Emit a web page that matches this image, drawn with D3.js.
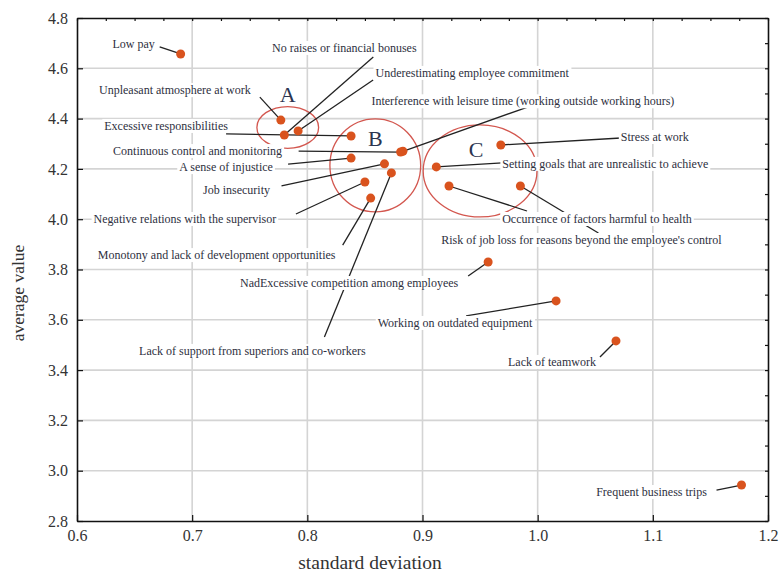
<!DOCTYPE html>
<html>
<head>
<meta charset="utf-8">
<script src="https://cdn.jsdelivr.net/npm/d3@7"></script>
<style>
  body { margin: 0; background: #fff; }
  text { font-family: "Liberation Serif", "DejaVu Serif", serif; }
</style>
</head>
<body>
<svg id="chart"></svg>
<script>
// factor names, standard deviation (x), average value (y)
var factors = ["Low pay", "No raises or financial bonuses", "Underestimating employee commitment",
    "Unpleasant atmosphere at work", "Interference with leisure time (working outside working hours)",
    "Continuous control and monitoring", "Excessive responsibilities", "A sense of injustice",
    "Job insecurity", "Negative relations with the supervisor",
    "Monotony and lack of development opportunities", "Lack of support from superiors and co-workers",
    "NadExcessive competition among employees", "Stress at work",
    "Setting goals that are unrealistic to achieve", "Occurrence of factors harmful to health",
    "Risk of job loss for reasons beyond the employee's control", "Working on outdated equipment",
    "Lack of teamwork", "Frequent business trips"]

var stdDev = [0.690, 0.780, 0.792, 0.777, 0.883, 0.881, 0.838, 0.838, 0.867, 0.850,
    0.855, 0.873, 0.957, 0.968, 0.912, 0.923, 0.985, 1.016, 1.068, 1.177]

var avgValue = [4.657, 4.335, 4.351, 4.394, 4.270, 4.267, 4.331, 4.243, 4.220, 4.148,
    4.084, 4.184, 3.830, 4.295, 4.208, 4.132, 4.132, 3.675, 3.516, 2.943]

// groups A, B, C (centre and half widths in data units)
var groupNames = ["A", "B", "C"]
var groupCx = [0.783, 0.859, 0.950]
var groupCy = [4.365, 4.214, 4.192]
var groupRx = [0.0268, 0.0394, 0.0494]
var groupRy = [0.083, 0.185, 0.183]

var xTicks = [0.6, 0.7, 0.8, 0.9, 1.0, 1.1, 1.2]
var yTicks = [2.8, 3.0, 3.2, 3.4, 3.6, 3.8, 4.0, 4.2, 4.4, 4.6, 4.8]

// label placement: offsets in px from the point (label centre, leader end)
var labelOff = [[-47,-10,-21,-7],[60,-87,89,-78],[174,-58,75,-51],[-106,-30,-21,-23],
    [120,-50,124,-44],[-203,-1,-102,-1],[-185,-10,-125,-2],[-125,9,-63,6],
    [-148,26,-103,22],[-180,37,-69,32],[-154,57,-28,47],[-139,178,-67,164],
    [-139,21,-20,14],[154,-8,120,-7],[169,-3,66,-4],[148,33,78,25],
    [61,54,78,47],[-101,22,-90,15],[-64,21,-16,16],[-90,7,-25,5]]

var screen = {width: 779, height: 572}
var margins = {left: 77, right: 11, top: 18, bottom: 51}
var graph = {
    width: screen.width - margins.left - margins.right,
    height: screen.height - margins.top - margins.bottom
}

var svg = d3.select("#chart")
    .attr("width", screen.width)
    .attr("height", screen.height)

var target = svg.append("g")
    .attr("transform", "translate(" + margins.left + "," + margins.top + ")")

var xScale = d3.scaleLinear().domain([0.6, 1.2]).range([0, graph.width])
var yScale = d3.scaleLinear().domain([2.8, 4.8]).range([graph.height, 0])

// grid
var grid = target.append("g").attr("stroke", "#d4d4d4").attr("stroke-width", 1.6)
grid.selectAll(".gx").data(xTicks.slice(1, -1)).enter().append("line")
    .attr("x1", function(d) { return xScale(d) }).attr("x2", function(d) { return xScale(d) })
    .attr("y1", 0).attr("y2", graph.height)
grid.selectAll(".gy").data(yTicks.slice(1, -1)).enter().append("line")
    .attr("y1", function(d) { return yScale(d) }).attr("y2", function(d) { return yScale(d) })
    .attr("x1", 0).attr("x2", graph.width)

// group ellipses
target.append("g").selectAll("ellipse")
    .data(groupNames).enter().append("ellipse")
    .attr("cx", function(d, i) { return xScale(groupCx[i]) })
    .attr("cy", function(d, i) { return yScale(groupCy[i]) })
    .attr("rx", function(d, i) { return xScale(groupCx[i] + groupRx[i]) - xScale(groupCx[i]) })
    .attr("ry", function(d, i) { return yScale(groupCy[i]) - yScale(groupCy[i] + groupRy[i]) })
    .attr("fill", "none")
    .attr("stroke", "#d3574f")
    .attr("stroke-width", 1.3)

var letterOff = [[0, -33], [0, -27], [-4, -21]]
target.append("g").selectAll("text")
    .data(groupNames).enter().append("text")
    .text(function(d) { return d })
    .attr("x", function(d, i) { return xScale(groupCx[i]) + letterOff[i][0] })
    .attr("y", function(d, i) { return yScale(groupCy[i]) + letterOff[i][1] })
    .attr("text-anchor", "middle")
    .attr("dominant-baseline", "central")
    .attr("font-size", 22)
    .attr("fill", "#2b3550")

// leaders
target.append("g").selectAll("line")
    .data(factors).enter().append("line")
    .attr("x1", function(d, i) { return xScale(stdDev[i]) })
    .attr("y1", function(d, i) { return yScale(avgValue[i]) })
    .attr("x2", function(d, i) { return xScale(stdDev[i]) + labelOff[i][2] })
    .attr("y2", function(d, i) { return yScale(avgValue[i]) + labelOff[i][3] })
    .attr("stroke", "#222")
    .attr("stroke-width", 1.3)

// labels with white backing
var labels = target.append("g").selectAll("g")
    .data(factors).enter().append("g")
labels.append("rect").attr("fill", "#fff")
labels.append("text")
    .text(function(d) { return d })
    .attr("x", function(d, i) { return xScale(stdDev[i]) + labelOff[i][0] })
    .attr("y", function(d, i) { return yScale(avgValue[i]) + labelOff[i][1] })
    .attr("text-anchor", "middle")
    .attr("dominant-baseline", "central")
    .attr("font-size", 12)
    .attr("fill", "#2e3040")
labels.each(function() {
    var g = d3.select(this)
    var b = g.select("text").node().getBBox()
    g.select("rect")
        .attr("x", b.x - 2).attr("y", b.y)
        .attr("width", b.width + 4).attr("height", b.height)
})

// points
target.append("g").selectAll("circle")
    .data(factors).enter().append("circle")
    .attr("cx", function(d, i) { return xScale(stdDev[i]) })
    .attr("cy", function(d, i) { return yScale(avgValue[i]) })
    .attr("r", 4.5)
    .attr("fill", "#d9531e")

// axes
var xMinorVals = d3.range(0.6, 1.2001, 0.025)
var yMinorVals = d3.range(2.8, 4.8001, 0.1)
var xAxis = d3.axisBottom(xScale).tickValues(xTicks).tickFormat(d3.format(".1f"))
    .tickSizeInner(-6).tickSizeOuter(0).tickPadding(9)
var yAxis = d3.axisLeft(yScale).tickValues(yTicks).tickFormat(d3.format(".1f"))
    .tickSizeInner(-6).tickSizeOuter(0).tickPadding(9)

var gx = target.append("g").attr("transform", "translate(0," + graph.height + ")")
gx.call(d3.axisBottom(xScale).tickValues(xMinorVals).tickSizeInner(-3).tickSizeOuter(0).tickFormat(""))
gx.call(xAxis)
var gy = target.append("g")
gy.call(d3.axisLeft(yScale).tickValues(yMinorVals).tickSizeInner(-3).tickSizeOuter(0).tickFormat(""))
gy.call(yAxis)
target.append("g")
    .call(d3.axisTop(xScale).tickValues(xMinorVals).tickSizeInner(-3).tickSizeOuter(0).tickFormat(""))
target.append("g").attr("transform", "translate(" + graph.width + ",0)")
    .call(d3.axisRight(yScale).tickValues(yMinorVals).tickSizeInner(-3).tickSizeOuter(0).tickFormat(""))

target.selectAll(".domain").attr("stroke", "#111").attr("stroke-width", 1.6)
target.selectAll(".tick line").attr("stroke", "#111").attr("stroke-width", 1.2)
target.selectAll(".tick text").attr("font-size", 16).attr("fill", "#333")
    .attr("font-family", "Liberation Serif")

// axis titles
svg.append("text")
    .text("standard deviation")
    .attr("x", 370)
    .attr("y", 562)
    .attr("text-anchor", "middle")
    .attr("dominant-baseline", "central")
    .attr("font-size", 19.5)
    .attr("fill", "#333")
svg.append("g")
    .attr("transform", "translate(18,293)")
    .append("text")
    .text("average value")
    .attr("text-anchor", "middle")
    .attr("dominant-baseline", "central")
    .attr("transform", "rotate(270)")
    .attr("font-size", 17.5)
    .attr("fill", "#333")
</script>
</body>
</html>
